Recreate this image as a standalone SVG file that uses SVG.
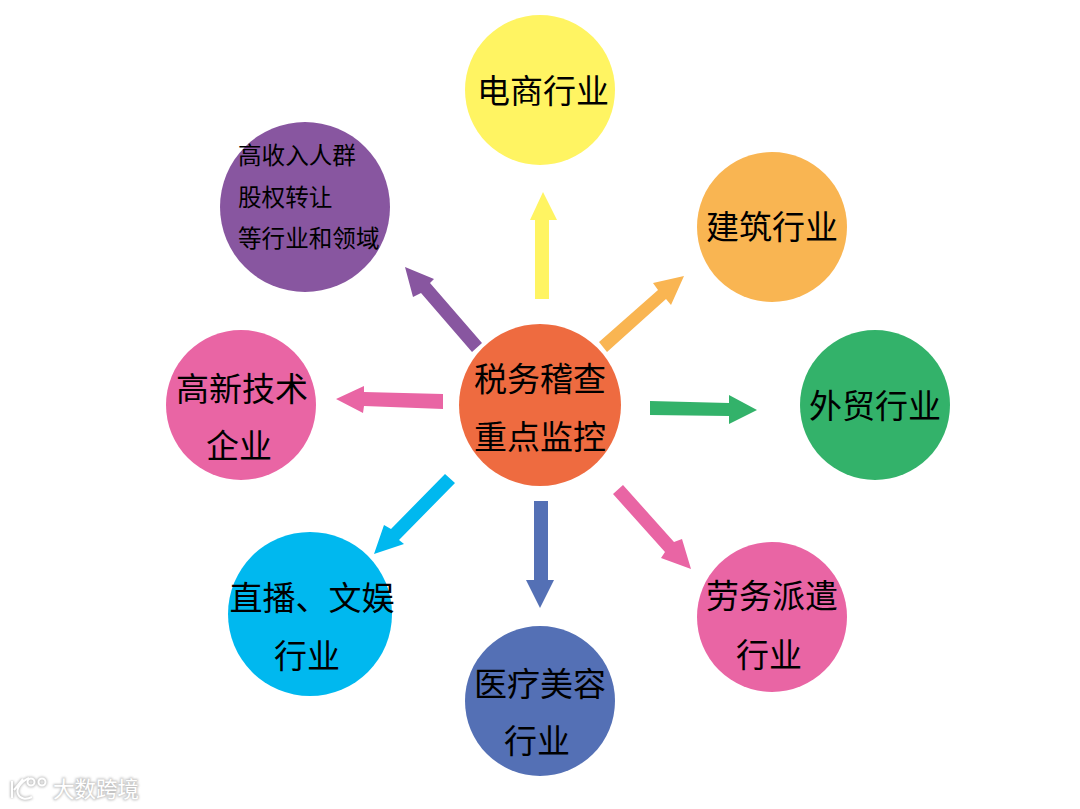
<svg xmlns="http://www.w3.org/2000/svg" width="1080" height="809" viewBox="0 0 1080 809">
<defs><filter id="halo" x="-20%" y="-40%" width="140%" height="180%"><feGaussianBlur stdDeviation="1.2"/></filter></defs>
<style>
text{font-family:"Noto Sans CJK SC","Noto Sans CJK TC",sans-serif;fill:#000;text-anchor:middle}
.l{font-size:33px}
.s{font-size:23.6px;text-anchor:start}
.wt{font-size:21.5px;text-anchor:start}
.wh{fill:#c4c4c4;stroke:#c4c4c4;stroke-width:2}
.wf{fill:#fff}
.lg{fill:none;stroke:#fff;stroke-width:2}
.lh{fill:none;stroke:#c4c4c4;stroke-width:4}
</style>
<rect width="1080" height="809" fill="#fff"/>
<g id="connectors">
<polygon fill="#fff462" points="535,299 549,299 549,220 557,220 543,192 530,220 535,220"/>
<polygon fill="#f9b552" points="599,342 607,352 666,299 671,305 684,276 653,283 658,290"/>
<polygon fill="#33b26a" points="650,401 650,415 729,416 729,424 757,410 729,395 729,403"/>
<polygon fill="#e965a4" points="613,494 623,485 674,542 682,539 691,569 661,558 665,552"/>
<polygon fill="#5470b5" points="534,501 548,501 548,580 554,580 540,608 526,580 534,580"/>
<polygon fill="#00b8ef" points="445,474 455,483 399,540 404,544 374,554 384,525 391,529"/>
<polygon fill="#e965a4" points="443,394 443,409 364,406 363,413 336,399 364,386 364,392"/>
<polygon fill="#8856a0" points="482,343 472,352 421,293 413,297 405,267 434,279 430,283"/>
</g>
<g id="center"><circle cx="540" cy="405" r="81" fill="#ee6b40"/><text class="l" x="540" y="391">税务稽查</text><text class="l" x="540" y="449">重点监控</text></g>
<g id="ecommerce"><circle cx="540" cy="90" r="75" fill="#fff462"/><text class="l" x="543" y="103">电商行业</text></g>
<g id="construction"><circle cx="772" cy="227" r="75" fill="#f9b552"/><text class="l" x="772" y="239">建筑行业</text></g>
<g id="trade"><circle cx="875" cy="405" r="75" fill="#33b26a"/><text class="l" x="875" y="418">外贸行业</text></g>
<g id="labor"><circle cx="772" cy="617" r="75" fill="#e965a4"/><text class="l" x="772" y="608">劳务派遣</text><text class="l" x="769" y="667">行业</text></g>
<g id="medical"><circle cx="540" cy="701" r="75" fill="#5470b5"/><text class="l" x="540" y="696">医疗美容</text><text class="l" x="537" y="753">行业</text></g>
<g id="live"><circle cx="310" cy="614" r="82" fill="#00b8ef"/><text class="l" x="312" y="610">直播、文娱</text><text class="l" x="307" y="668">行业</text></g>
<g id="hightech"><circle cx="241" cy="405" r="75" fill="#e965a4"/><text class="l" x="242" y="401">高新技术</text><text class="l" x="239" y="458">企业</text></g>
<g id="highincome"><circle cx="305" cy="207" r="85" fill="#8856a0"/><text class="s" x="238" y="164">高收入人群</text><text class="s" x="238" y="206">股权转让</text><text class="s" x="238" y="247">等行业和领域</text></g>
<g id="watermark">
<g filter="url(#halo)"><path class="lh" d="M12 781V798M14 790L23 779M29 778C20 782 16 789 18 794C20 799 26 800 32 797"/><circle class="lh" cx="31" cy="782" r="3.5"/><circle class="lh" cx="42" cy="782" r="3.5"/><text class="wt wh" x="53" y="797">大数跨境</text></g>
<path class="lg" d="M12 781V798M14 790L23 779M29 778C20 782 16 789 18 794C20 799 26 800 32 797"/><circle class="lg" cx="31" cy="782" r="3.5"/><circle class="lg" cx="42" cy="782" r="3.5"/>
<text class="wt wf" x="53" y="797">大数跨境</text>
</g>
</svg>
